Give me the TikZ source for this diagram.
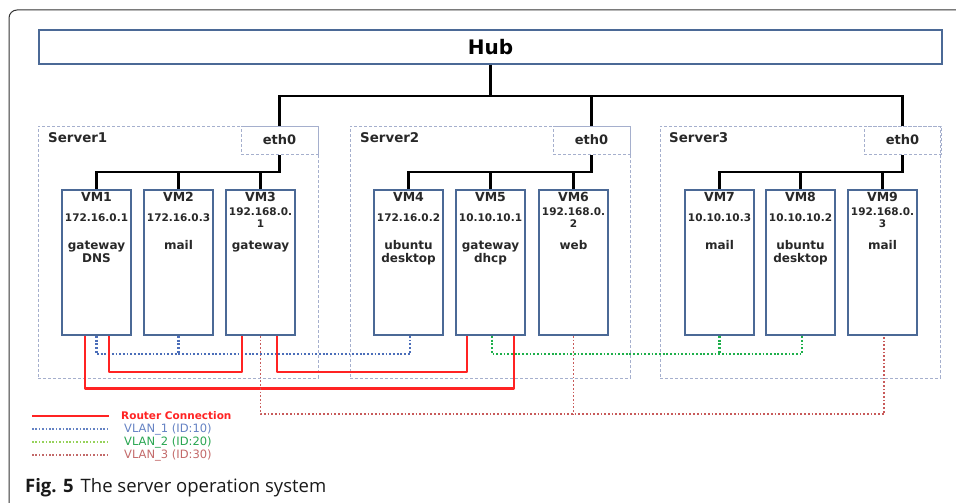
\documentclass[tikz,border=0pt]{standalone}
\usepackage{fontspec}
\setmainfont{DejaVu Sans}
\newfontfamily\capfont{Open Sans}
\definecolor{vmblue}{RGB}{75,105,150}
\definecolor{srvgray}{RGB}{165,175,205}
\definecolor{routred}{RGB}{255,35,35}
\definecolor{vlanblue}{RGB}{75,110,185}
\definecolor{vlangreen}{RGB}{30,175,75}
\definecolor{vlanred}{RGB}{200,90,90}
\definecolor{txtdark}{RGB}{40,40,40}
\definecolor{legblue}{RGB}{100,130,195}
\definecolor{leggreen}{RGB}{40,165,80}
\definecolor{leggreendot}{RGB}{150,210,90}
\definecolor{legred}{RGB}{195,105,105}
\newcommand\vmunit[5]{%
  \node[vm] (#1) at (#2+1,189) {};
  \node[vmname] (#1n) at (#1.north |- rowN) {#3};
  \node[vmip] (#1i) at (#1.north |- rowI) {#4};
  \node[vmrole] (#1r) at (#1.north |- rowR) {#5};
}
\begin{document}
\begin{tikzpicture}[x=1pt,y=-1pt,
  vm/.style={draw=vmblue, line width=2pt, fill=white, minimum width=69pt, minimum height=145pt, inner sep=0pt, anchor=north west},
  hubbox/.style={draw=vmblue, line width=2pt, minimum width=903pt, minimum height=34pt, inner sep=0pt, anchor=north west, font=\fontsize{20}{22}\selectfont\bfseries},
  srv/.style={draw=srvgray, line width=1.1pt, dash pattern=on 3pt off 2pt, minimum width=280pt, minimum height=252pt, inner sep=0pt, anchor=north west},
  ethbox/.style={draw=srvgray, line width=1.1pt, dash pattern=on 3pt off 2pt, minimum width=77pt, minimum height=28pt, inner sep=0pt, anchor=north west, font=\fontsize{13}{15}\selectfont\bfseries, text=txtdark},
  srvlabel/.style={anchor=west, inner sep=0pt, font=\fontsize{13.4}{15}\selectfont\bfseries, text=txtdark},
  vmname/.style={inner sep=0pt, font=\fontsize{12.5}{14}\selectfont\bfseries, text=txtdark},
  vmip/.style={inner sep=0pt, align=center, font=\fontsize{10.5}{12}\selectfont\bfseries, text=txtdark},
  vmrole/.style={inner sep=0pt, anchor=north, align=center, font=\fontsize{12}{13}\selectfont\bfseries, text=txtdark},
  net/.style={draw=black, line width=2.2pt},
  router/.style={draw=routred, line width=2.5pt, line join=round},
  vlanone/.style={draw=vlanblue, line width=2.2pt, dash pattern=on 1.8pt off 1.9pt},
  vlantwo/.style={draw=vlangreen, line width=2.2pt, dash pattern=on 1.8pt off 1.9pt},
  vlanthree/.style={draw=vlanred, line width=1.9pt, dash pattern=on 1.7pt off 2pt},
  legtxt/.style={anchor=west, inner sep=0pt, font=\fontsize{11.5}{13}\selectfont}
]
\useasboundingbox (0,0) rectangle (956,503);
% frame
\draw[color=black!80, line width=1pt, rounded corners=8pt] (9,503) -- (9,10) -- (957,10);
% rows
\coordinate (rowN) at (0,197);
\coordinate (rowI) at (0,217.5);
\coordinate (rowR) at (0,240.5);
\coordinate (hubbar) at (0,96);
\coordinate (sbar) at (0,172);
\coordinate (yv) at (0,354);
\coordinate (yr1) at (0,372);
\coordinate (yr2) at (0,388.5);
\coordinate (yv3) at (0,414);
% hub
\node[hubbox] (hub) at (38,29) {Hub};
% servers
\node[srv] (srv1) at (37.5,125.5) {};
\node[srv] (srv2) at (349.5,125.5) {};
\node[srv] (srv3) at (659.5,125.5) {};
\node[ethbox] (eth1) at (240.5,125.5) {eth0};
\node[ethbox] (eth2) at (552.5,125.5) {eth0};
\node[ethbox] (eth3) at (863.5,125.5) {eth0};
\node[srvlabel] (s1l) at (48,138) {Server1};
\node[srvlabel] (s2l) at (360,138) {Server2};
\node[srvlabel] (s3l) at (669,138) {Server3};
% VMs
\vmunit{vm1}{60}{VM1}{172.16.0.1}{gateway\\DNS}
\vmunit{vm2}{142}{VM2}{172.16.0.3}{mail}
\vmunit{vm3}{224}{VM3}{192.168.0.\\1}{gateway}
\vmunit{vm4}{372}{VM4}{172.16.0.2}{ubuntu\\desktop}
\vmunit{vm5}{454}{VM5}{10.10.10.1}{gateway\\dhcp}
\vmunit{vm6}{537}{VM6}{192.168.0.\\2}{web}
\vmunit{vm7}{683}{VM7}{10.10.10.3}{mail}
\vmunit{vm8}{764}{VM8}{10.10.10.2}{ubuntu\\desktop}
\vmunit{vm9}{846}{VM9}{192.168.0.\\3}{mail}
% hub connections
\draw[net] (hub.south) -- (hub.south |- hubbar);
\draw[net] (eth1.north) -- (eth1.north |- hubbar) -- (eth3.north |- hubbar) -- (eth3.north);
\draw[net] (eth2.north |- hubbar) -- (eth2.north);
% server internal connections
\draw[net] (vm1.north) -- (vm1.north |- sbar) -- (eth1.south |- sbar) -- (eth1.south);
\draw[net] (vm2.north |- sbar) -- (vm2.north);
\draw[net] (vm3.north |- sbar) -- (vm3.north);
\draw[net] (vm4.north) -- (vm4.north |- sbar) -- (eth2.south |- sbar) -- (eth2.south);
\draw[net] (vm5.north |- sbar) -- (vm5.north);
\draw[net] (vm6.north |- sbar) -- (vm6.north);
\draw[net] (vm7.north) -- (vm7.north |- sbar) -- (eth3.south |- sbar) -- (eth3.south);
\draw[net] (vm8.north |- sbar) -- (vm8.north);
\draw[net] (vm9.north |- sbar) -- (vm9.north);
% attachment points
\coordinate (p1a) at ([xshift=-11.5pt]vm1.south);
\coordinate (p1b) at ([xshift=12.5pt]vm1.south);
\coordinate (p3a) at ([xshift=-18.5pt]vm3.south);
\coordinate (p3b) at ([xshift=16.5pt]vm3.south);
\coordinate (p5a) at ([xshift=-23.5pt]vm5.south);
\coordinate (p5b) at ([xshift=23.5pt]vm5.south);
\coordinate (p5g) at ([xshift=1.5pt]vm5.south);
\coordinate (p4) at ([xshift=1.5pt]vm4.south);
\coordinate (p8) at ([xshift=1.5pt]vm8.south);
\coordinate (p9) at ([xshift=1.5pt]vm9.south);
% VLAN 1
\draw[vlanone] (vm1.south) |- (p4 |- yv) -- (p4);
\draw[vlanone] (vm2.south) -- (vm2.south |- yv);
% VLAN 2
\draw[vlantwo] (p5g) |- (p8 |- yv) -- (p8);
\draw[vlantwo] (vm7.south) -- (vm7.south |- yv);
% router connections
\draw[router] (p1a) |- (p5b |- yr2) -- (p5b);
\draw[router] (p1b) |- (p3a |- yr1) -- (p3a);
\draw[router] (p3b) |- (p5a |- yr1) -- (p5a);
% VLAN 3
\draw[vlanthree] (vm3.south) |- (p9 |- yv3) -- (p9);
\draw[vlanthree] (vm6.south) -- (vm6.south |- yv3);
% legend
\node[legtxt, text=routred, font=\fontsize{10.5}{12}\selectfont\bfseries] (lg1) at (121,416) {Router Connection};
\node[legtxt, text=legblue] (lg2) at (124,429.5) {VLAN\_1 (ID:10)};
\node[legtxt, text=leggreen] (lg3) at (124,442.5) {VLAN\_2 (ID:20)};
\node[legtxt, text=legred] (lg4) at (124,455.5) {VLAN\_3 (ID:30)};
\coordinate (la1) at (32,416); \coordinate (lb1) at (109,416);
\coordinate (la2) at (32,429); \coordinate (lb2) at (109,429);
\coordinate (la3) at (32,442); \coordinate (lb3) at (109,442);
\coordinate (la4) at (32,455); \coordinate (lb4) at (109,455);
\draw[router, line width=2.2pt] (la1) -- (lb1);
\draw[vlanone, draw=legblue, line width=1.7pt, dash pattern=on 1.5pt off 1.9pt] (la2) -- (lb2);
\draw[vlantwo, draw=leggreendot, line width=1.7pt, dash pattern=on 1.5pt off 1.9pt] (la3) -- (lb3);
\draw[vlanthree, draw=legred, line width=1.7pt, dash pattern=on 1.5pt off 1.9pt] (la4) -- (lb4);
% caption
\node[anchor=base west, inner sep=0pt, font=\capfont\fontsize{18.5}{20}\selectfont, text=black!90] (cap) at (25,492) {\textbf{Fig. 5}\hspace{7pt}The server operation system};
\end{tikzpicture}
\end{document}
